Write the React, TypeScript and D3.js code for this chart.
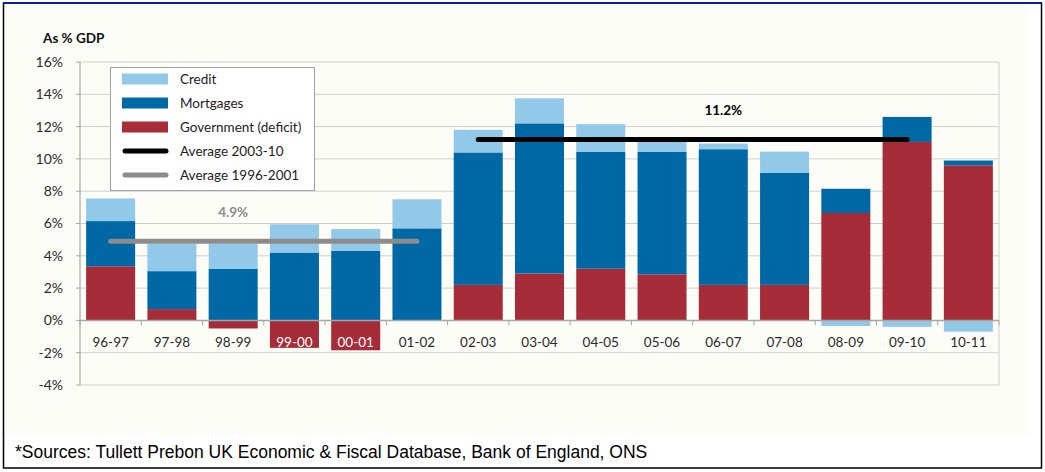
import { useEffect, useRef } from 'react';
import * as d3 from 'd3';

const categories = ['96-97', '97-98', '98-99', '99-00', '00-01', '01-02', '02-03', '03-04', '04-05', '05-06', '06-07', '07-08', '08-09', '09-10', '10-11'];
const government = [3.35, 0.7, -0.5, -1.7, -1.85, 0, 2.2, 2.9, 3.2, 2.85, 2.2, 2.2, 6.65, 11.05, 9.6];
const mortgages = [2.8, 2.35, 3.2, 4.2, 4.3, 5.7, 8.2, 9.3, 7.25, 7.6, 8.4, 6.95, 1.5, 1.55, 0.3];
const credit = [1.4, 1.7, 1.55, 1.75, 1.35, 1.8, 1.4, 1.55, 1.7, 0.85, 0.35, 1.3, -0.35, -0.4, -0.7];
const yTicks = [-4, -2, 0, 2, 4, 6, 8, 10, 12, 14, 16];
const averages = [
  { label: 'Average 1996-2001', value: 4.9, from: '96-97', to: '01-02', color: '#8c8c8c', text: '4.9%', textAt: '98-99' },
  { label: 'Average 2003-10', value: 11.2, from: '02-03', to: '09-10', color: '#000000', text: '11.2%', textAt: '06-07' },
];
const seriesNames = ['Government (deficit)', 'Mortgages', 'Credit'];
const colors = ['#a52c38', '#0068a5', '#92c8e8'];

const W = 1045;
const H = 472;
const FONT = 'Lato, sans-serif';

const App = () => {
  const ref = useRef<SVGSVGElement>(null!);

  useEffect(() => {
    const svg = d3.select(ref.current);
    svg.selectAll('*').remove();

    const left = 80, right = 999, top = 62, bottom = 385;
    const x = d3.scaleBand().domain(categories).range([left, right]).paddingInner(0.2).paddingOuter(0.1);
    const y = d3.scaleLinear().domain([-4, 16]).range([bottom, top]);

    // page frame
    svg.append('rect').attr('width', W).attr('height', H).attr('fill', '#ffffff');
    svg.append('rect').attr('x', 4).attr('y', 4).attr('width', 1024).attr('height', 431).attr('fill', '#fdfdf8');
    svg.append('rect').attr('x', 3.5).attr('y', 3).attr('width', 1038).attr('height', 465)
      .attr('fill', 'none').attr('stroke', '#000').attr('stroke-width', 1.5);
    svg.append('line').attr('x1', 3).attr('x2', 1042).attr('y1', 3).attr('y2', 3)
      .attr('stroke', '#0010c0').attr('stroke-width', 1.5);

    // grid
    svg.append('g').selectAll('line').data(yTicks.filter(t => t !== 0)).enter().append('line')
      .attr('x1', left).attr('x2', right)
      .attr('y1', d => y(d)).attr('y2', d => y(d))
      .attr('stroke', '#cfcfcf').attr('stroke-width', 1);
    svg.append('line').attr('x1', right).attr('x2', right).attr('y1', top).attr('y2', bottom)
      .attr('stroke', '#cfcfcf');

    // y axis
    svg.append('line').attr('x1', left).attr('x2', left).attr('y1', top).attr('y2', bottom)
      .attr('stroke', '#a6a6a6').attr('stroke-width', 1.2);
    svg.append('g').selectAll('line').data(yTicks).enter().append('line')
      .attr('x1', left - 4).attr('x2', left)
      .attr('y1', d => y(d)).attr('y2', d => y(d))
      .attr('stroke', '#a6a6a6');
    svg.append('g').selectAll('text').data(yTicks).enter().append('text')
      .attr('x', 63).attr('y', d => y(d)).attr('dy', '0.35em')
      .attr('text-anchor', 'end').attr('font-family', FONT).attr('font-size', 14)
      .attr('fill', '#2a2a2a').text(d => `${d}%`);

    svg.append('text').attr('x', 43).attr('y', 43).attr('font-family', FONT)
      .attr('font-size', 13.5).attr('font-weight', 'bold').attr('fill', '#111').text('As % GDP');

    // bars
    const rows = categories.map((c, i) => ({ cat: c, g: government[i], m: mortgages[i], c2: credit[i] }));
    const stack = d3.stack<any>().keys(['g', 'm', 'c2']).offset(d3.stackOffsetDiverging);
    const series = stack(rows);
    svg.append('g').selectAll('g').data(series).enter().append('g')
      .attr('fill', (_, i) => colors[i])
      .selectAll('rect').data(d => d).enter().append('rect')
      .attr('x', d => x(d.data.cat)!)
      .attr('width', x.bandwidth())
      .attr('y', d => y(Math.max(d[0], d[1])))
      .attr('height', d => Math.abs(y(d[0]) - y(d[1])));

    // zero line and category ticks
    svg.append('line').attr('x1', left).attr('x2', right).attr('y1', y(0)).attr('y2', y(0))
      .attr('stroke', '#a6a6a6').attr('stroke-width', 1.5);
    const step = x.step();
    svg.append('g').selectAll('line').data(d3.range(categories.length + 1)).enter().append('line')
      .attr('x1', i => left + i * step).attr('x2', i => left + i * step)
      .attr('y1', y(0)).attr('y2', y(0) + 5)
      .attr('stroke', '#a6a6a6');
    svg.append('g').selectAll('text').data(rows).enter().append('text')
      .attr('x', d => x(d.cat)! + x.bandwidth() / 2).attr('y', 342).attr('dy', '0.35em')
      .attr('text-anchor', 'middle').attr('font-family', FONT).attr('font-size', 13.5)
      .attr('fill', d => (d.g < -1 ? '#ffffff' : '#2a2a2a')).text(d => d.cat);

    // averages
    averages.forEach(a => {
      const x1 = x(a.from)! + x.bandwidth() / 2;
      const x2 = x(a.to)! + x.bandwidth() / 2;
      svg.append('line').attr('x1', x1).attr('x2', x2).attr('y1', y(a.value)).attr('y2', y(a.value))
        .attr('stroke', a.color).attr('stroke-width', 5).attr('stroke-linecap', 'round');
      svg.append('text').attr('x', x(a.textAt)! + x.bandwidth() / 2).attr('y', y(a.value) - 29)
        .attr('dy', '0.35em').attr('text-anchor', 'middle').attr('font-family', FONT)
        .attr('font-size', 13.5).attr('font-weight', 'bold').attr('fill', a.color).text(a.text);
    });

    // legend
    const lg = svg.append('g');
    lg.append('rect').attr('x', 110.5).attr('y', 67.5).attr('width', 204).attr('height', 123)
      .attr('fill', '#ffffff').attr('stroke', '#a0a0a0');
    const items = [
      { name: seriesNames[2], color: colors[2], line: false },
      { name: seriesNames[1], color: colors[1], line: false },
      { name: seriesNames[0], color: colors[0], line: false },
      { name: averages[1].label, color: averages[1].color, line: true },
      { name: averages[0].label, color: averages[0].color, line: true },
    ];
    const ly = d3.scalePoint().domain(items.map(d => d.name)).range([79, 175]);
    items.forEach(it => {
      const cy = ly(it.name)!;
      if (it.line) {
        lg.append('line').attr('x1', 125).attr('x2', 166).attr('y1', cy).attr('y2', cy)
          .attr('stroke', it.color).attr('stroke-width', 5).attr('stroke-linecap', 'round');
      } else {
        lg.append('rect').attr('x', 122).attr('y', cy - 5.5).attr('width', 46).attr('height', 11)
          .attr('fill', it.color);
      }
      lg.append('text').attr('x', 180).attr('y', cy).attr('dy', '0.35em').attr('font-family', FONT)
        .attr('font-size', 13.5).attr('fill', '#222').text(it.name);
    });

    svg.append('text').attr('x', 15).attr('y', 458).attr('font-family', '"Liberation Sans", Arial, sans-serif')
      .attr('font-size', 17.5).attr('fill', '#000')
      .text('*Sources: Tullett Prebon UK Economic & Fiscal Database, Bank of England, ONS');

    return () => {
      svg.selectAll('*').remove();
    };
  }, []);

  return <svg ref={ref} width={W} height={H} style={{ position: 'absolute', left: 0, top: 0 }}></svg>;
};

export default App;
